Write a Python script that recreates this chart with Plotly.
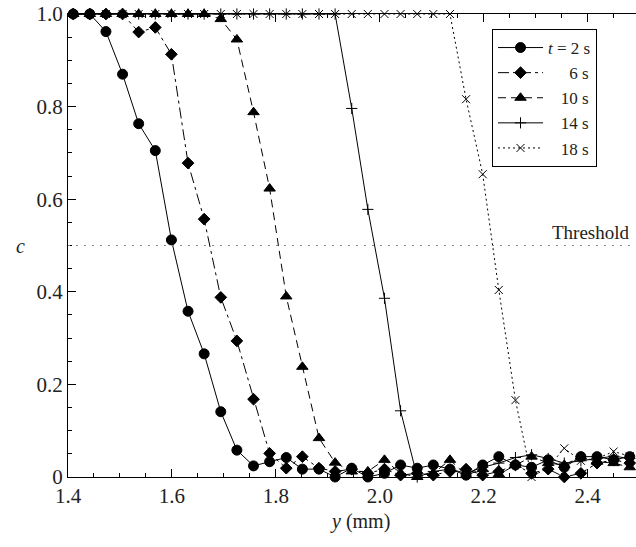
import plotly.graph_objs as go

# positions y (mm) where c was sampled
ypos = [1.410, 1.442, 1.473, 1.505, 1.536, 1.568, 1.599, 1.631, 1.662, 1.694,
        1.725, 1.757, 1.788, 1.820, 1.851, 1.883, 1.914, 1.946, 1.977, 2.009,
        2.040, 2.072, 2.103, 2.135, 2.166, 2.198, 2.229, 2.261, 2.292, 2.324,
        2.355, 2.387, 2.418, 2.450, 2.481]

c_2s = [1.0, 1.0, 0.962, 0.870, 0.763, 0.705, 0.512, 0.358, 0.266, 0.141,
        0.058, 0.024, 0.033, 0.042, 0.017, 0.017, 0.0, 0.019, 0.0, 0.008,
        0.026, 0.019, 0.026, 0.017, 0.004, 0.026, 0.044, 0.026, 0.021, 0.037,
        0.021, 0.044, 0.044, 0.037, 0.044]
c_6s = [1.0, 1.0, 1.0, 1.0, 0.961, 0.971, 0.913, 0.678, 0.557, 0.388,
        0.294, 0.168, 0.051, 0.019, 0.044, 0.019, 0.012, 0.017, 0.008, 0.017,
        0.004, 0.008, 0.004, 0.012, 0.017, 0.004, 0.012, 0.026, 0.008, 0.017,
        0.0, 0.008, 0.030, 0.037, 0.030]
c_10s = [1.0, 1.0, 1.0, 1.0, 1.0, 1.0, 1.0, 1.0, 1.0, 0.989,
         0.945, 0.788, 0.623, 0.390, 0.238, 0.084, 0.031, 0.012, 0.012, 0.037,
         0.008, 0.0, 0.008, 0.037, 0.004, 0.017, 0.006, 0.026, 0.044, 0.030,
         0.026, 0.044, 0.033, 0.030, 0.021]
c_14s = [1.0, 1.0, 1.0, 1.0, 1.0, 1.0, 1.0, 1.0, 1.0, 1.0,
         1.0, 1.0, 1.0, 1.0, 1.0, 1.0, 1.0, 0.796, 0.578, 0.386,
         0.143, 0.0, 0.012, 0.017, 0.008, 0.021, 0.030, 0.042, 0.048, 0.040,
         0.030, 0.035, 0.040, 0.045, 0.040]
c_18s = [1.0, 1.0, 1.0, 1.0, 1.0, 1.0, 1.0, 1.0, 1.0, 1.0,
         1.0, 1.0, 1.0, 1.0, 1.0, 1.0, 1.0, 1.0, 1.0, 1.0,
         1.0, 1.0, 1.0, 1.0, 0.816, 0.654, 0.404, 0.166, 0.0, 0.021,
         0.062, 0.035, 0.040, 0.055, 0.045]

threshold = 0.5

FONT = "Liberation Serif"
INK = "#222222"

series = [
    ("<i>t</i> = 2 s", c_2s, "circle", 10, "solid"),
    ("&nbsp;&nbsp;&nbsp;&nbsp;&nbsp;6 s", c_6s, "diamond", 9, "11px,4px,3px,4px"),
    ("&nbsp;&nbsp;&nbsp;10 s", c_10s, "triangle-up", 10, "8px,5px"),
    ("&nbsp;&nbsp;&nbsp;14 s", c_14s, "cross-thin", 8, "solid"),
    ("&nbsp;&nbsp;&nbsp;18 s", c_18s, "x-thin", 8, "2px,3px"),
]

traces = []
for name, vals, sym, size, dash in series:
    traces.append(go.Scatter(
        x=ypos, y=vals, mode="lines+markers", name=name, cliponaxis=False,
        line=dict(color="black", width=1, dash=dash),
        marker=dict(symbol=sym, size=size, color="black",
                    line=dict(color="black", width=1))))

fig = go.Figure(data=traces)

# threshold line
fig.add_shape(type="line", xref="paper", x0=0, x1=1, yref="y", y0=threshold, y1=threshold,
              line=dict(color="#888888", width=1, dash="2px,6px"))
fig.add_annotation(text="Threshold", xref="paper", x=1, xanchor="right", xshift=-4,
                   yref="y", y=threshold, yanchor="bottom", yshift=1, showarrow=False,
                   font=dict(family=FONT, size=19, color=INK))

# axis titles
fig.add_annotation(text="<i>c</i>", xref="paper", x=-0.095, yref="y", y=0.5,
                   showarrow=False, font=dict(family=FONT, size=20, color=INK))
fig.add_annotation(text="<i>y</i> (mm)", xref="paper", x=0.514, yref="paper", y=-0.097,
                   yanchor="middle", showarrow=False,
                   font=dict(family=FONT, size=20, color=INK))

fig.update_layout(
    width=636, height=547,
    margin=dict(l=68, r=0, t=14, b=70),
    paper_bgcolor="white", plot_bgcolor="white",
    font=dict(family=FONT, size=21, color=INK),
    showlegend=True,
    legend=dict(x=0.7465, y=0.9676, xanchor="left", yanchor="top",
                bordercolor="black", borderwidth=1, bgcolor="white",
                font=dict(family=FONT, size=17, color=INK),
                itemwidth=45, tracegroupgap=0),
    xaxis=dict(range=[1.4, 2.493], showgrid=False, zeroline=False,
               showline=True, linecolor="black", linewidth=1, mirror="ticks",
               ticks="inside", ticklen=8, tickcolor="black", dtick=0.2, tick0=1.4,
               tickformat=".1f",
               minor=dict(dtick=0.05, tick0=1.4, ticks="inside", ticklen=4,
                          tickcolor="black", showgrid=False)),
    yaxis=dict(range=[0, 1.0], showgrid=False, zeroline=False,
               showline=True, linecolor="black", linewidth=1, mirror=False,
               ticks="inside", ticklen=8, tickcolor="black",
               tickvals=[0, 0.2, 0.4, 0.6, 0.8, 1.0],
               ticktext=["0", "0.2", "0.4", "0.6", "0.8", "1.0"],
               minor=dict(dtick=0.05, ticks="inside", ticklen=4,
                          tickcolor="black", showgrid=False)),
)

# drop the browser's default 8px page margin so the figure sits at the corner
fig.write_html("out.html", config={"displayModeBar": False},
               post_script="document.body.style.margin='0px';")
